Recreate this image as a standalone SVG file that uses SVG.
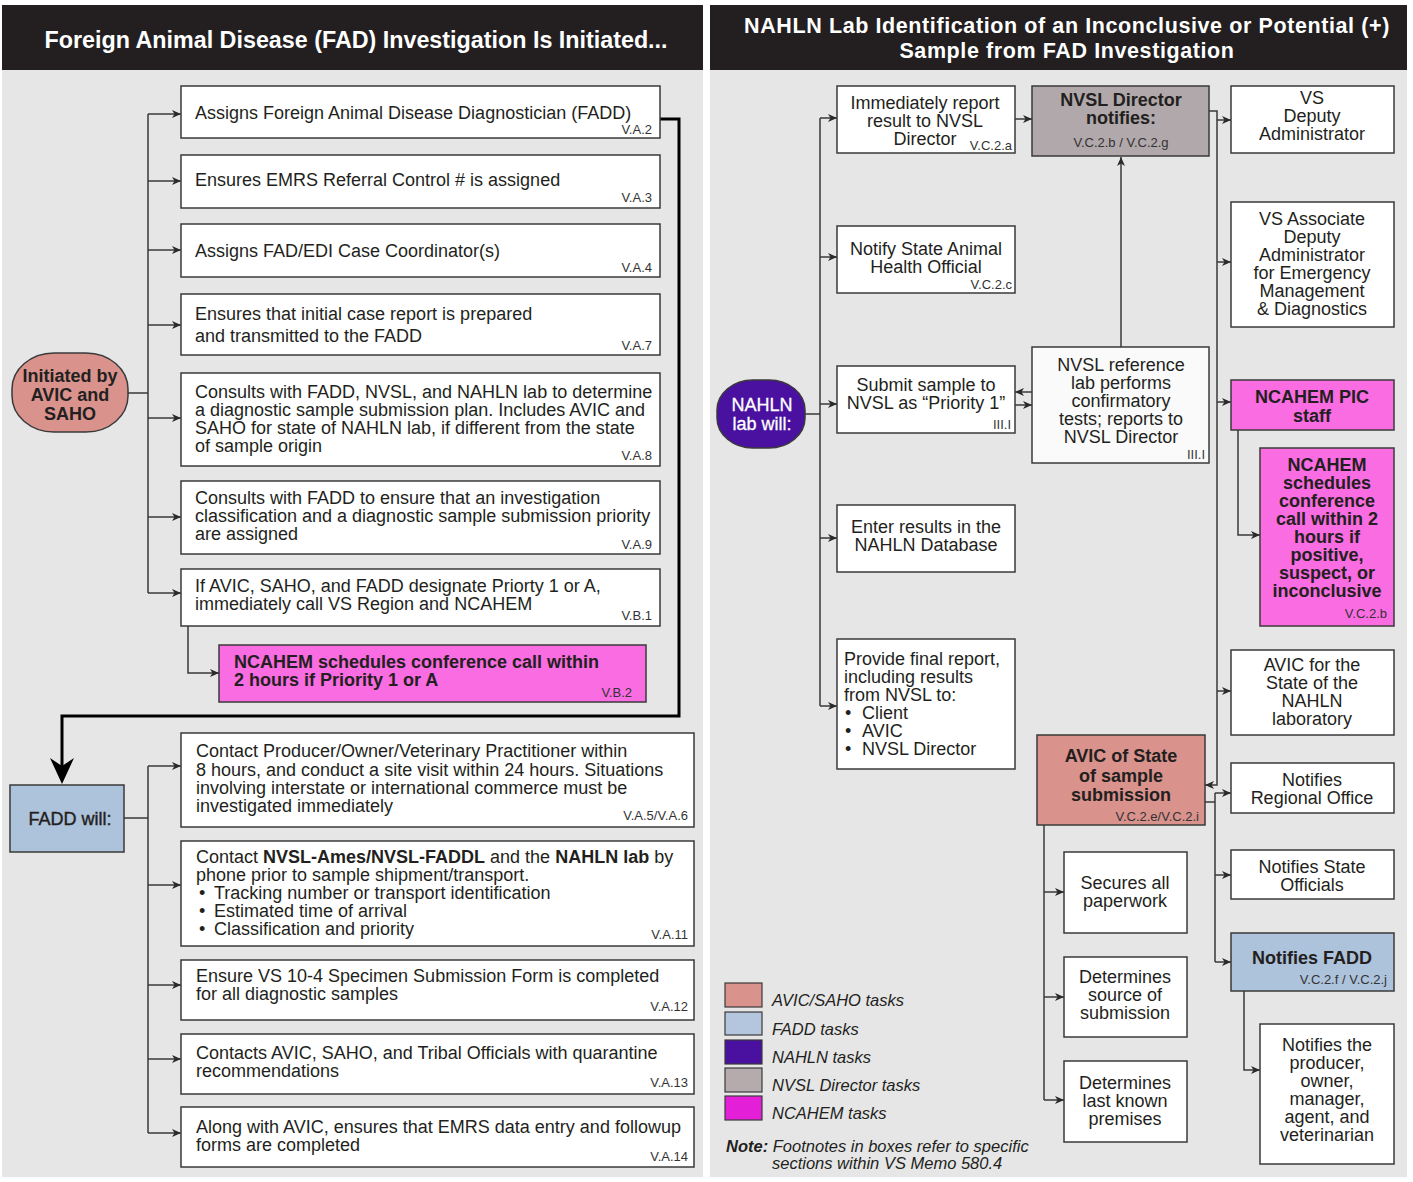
<svg xmlns="http://www.w3.org/2000/svg" width="1413" height="1182" viewBox="0 0 1413 1182">
<defs>
<style>
.hdr{fill:#231f20}
.bg{fill:#e6e6e6}
.box{fill:#fff;stroke:#3a3a3a;stroke-width:1.5}
.t{font-family:"Liberation Sans",Arial,Helvetica,sans-serif;font-size:18px;fill:#231f20}
.c{text-anchor:middle}
.b{font-weight:bold}
.fn{font-family:"Liberation Sans",Arial,Helvetica,sans-serif;font-size:13px;text-anchor:end;fill:#333}
.ht{font-family:"Liberation Sans",Arial,Helvetica,sans-serif;font-size:23px;font-weight:bold;fill:#fff;text-anchor:middle}
.conn{fill:none;stroke:#3a3a3a;stroke-width:1.5}
.pink{fill:#fa6ce2;stroke:#3a3a3a;stroke-width:1.5}
.salmon{fill:#d9928c;stroke:#3a3a3a;stroke-width:1.5}
.blue{fill:#adc2db;stroke:#3a3a3a;stroke-width:1.5}
.gray{fill:#b0a8aa;stroke:#3a3a3a;stroke-width:1.5}
.purple{fill:#4a11a0;stroke:#3a3a3a;stroke-width:1.5}
.leg{font-family:"Liberation Sans",Arial,Helvetica,sans-serif;font-size:16.5px;font-style:italic;fill:#231f20}
</style>
<marker id="ar" markerUnits="userSpaceOnUse" markerWidth="10" markerHeight="8" refX="9" refY="4" orient="auto">
<path d="M0,0 L9,4 L0,8 L2.5,4 z" fill="#2a2a2a"/>
</marker>
</defs>
<rect width="1413" height="1182" fill="#fff"/>
<!-- panels -->
<rect class="hdr" x="2" y="5" width="701" height="65"/>
<rect class="bg" x="2" y="70" width="701" height="1107"/>
<rect class="hdr" x="710" y="5" width="697" height="65"/>
<rect class="bg" x="710" y="70" width="697" height="1107"/>
<text class="ht" x="356" y="48" style="font-size:23.3px">Foreign Animal Disease (FAD) Investigation Is Initiated...</text>
<text class="ht" x="1067" y="33" style="font-size:21.5px;letter-spacing:0.6px">NAHLN Lab Identification of an Inconclusive or Potential (+)</text>
<text class="ht" x="1067" y="58" style="font-size:21.5px;letter-spacing:0.6px">Sample from FAD Investigation</text>

<!-- connectors -->
<g id="connectors">
<path class="conn" d="M128,393 H148 M148,114 V593"/>
<path class="conn" marker-end="url(#ar)" d="M148,114 H181"/>
<path class="conn" marker-end="url(#ar)" d="M148,181 H181"/>
<path class="conn" marker-end="url(#ar)" d="M148,250 H181"/>
<path class="conn" marker-end="url(#ar)" d="M148,325 H181"/>
<path class="conn" marker-end="url(#ar)" d="M148,418 H181"/>
<path class="conn" marker-end="url(#ar)" d="M148,517 H181"/>
<path class="conn" marker-end="url(#ar)" d="M148,593 H181"/>
<path class="conn" marker-end="url(#ar)" d="M188,626 V673 H219"/>
<path d="M660,119 H679 V716 H62 V768" fill="none" stroke="#000" stroke-width="3"/>
<polygon points="50,758 62,784 74,758 62,766" fill="#000"/>
<path class="conn" d="M124,818 H148 M148,766 V1133"/>
<path class="conn" marker-end="url(#ar)" d="M148,766 H181"/>
<path class="conn" marker-end="url(#ar)" d="M148,885 H181"/>
<path class="conn" marker-end="url(#ar)" d="M148,985 H181"/>
<path class="conn" marker-end="url(#ar)" d="M148,1059 H181"/>
<path class="conn" marker-end="url(#ar)" d="M148,1133 H181"/>

<path class="conn" d="M805,414 H820 M820,118 V706"/>
<path class="conn" marker-end="url(#ar)" d="M820,118 H837"/>
<path class="conn" marker-end="url(#ar)" d="M820,257 H837"/>
<path class="conn" marker-end="url(#ar)" d="M820,404 H837"/>
<path class="conn" marker-end="url(#ar)" d="M820,538 H837"/>
<path class="conn" marker-end="url(#ar)" d="M820,706 H837"/>
<path class="conn" marker-end="url(#ar)" d="M1015,119 H1032"/>
<path class="conn" marker-end="url(#ar)" d="M1121,347 V157"/>
<path class="conn" marker-end="url(#ar)" d="M1032,392 H1015"/>
<path class="conn" marker-end="url(#ar)" d="M1015,405 H1032"/>
<path class="conn" marker-end="url(#ar)" d="M1209,111 H1217 V785 H1205"/>
<path class="conn" marker-end="url(#ar)" d="M1217,120 H1231"/>
<path class="conn" marker-end="url(#ar)" d="M1217,262 H1231"/>
<path class="conn" marker-end="url(#ar)" d="M1217,402 H1231"/>
<path class="conn" marker-end="url(#ar)" d="M1217,691 H1231"/>
<path class="conn" d="M1205,802 H1215 M1215,793 V962"/>
<path class="conn" marker-end="url(#ar)" d="M1215,793 H1231"/>
<path class="conn" marker-end="url(#ar)" d="M1215,875 H1231"/>
<path class="conn" marker-end="url(#ar)" d="M1215,962 H1231"/>
<path class="conn" marker-end="url(#ar)" d="M1238,430 V535 H1260"/>
<path class="conn" marker-end="url(#ar)" d="M1244,991 V1070 H1260"/>
<path class="conn" d="M1044,825 V1100"/>
<path class="conn" marker-end="url(#ar)" d="M1044,892 H1064"/>
<path class="conn" marker-end="url(#ar)" d="M1044,997 H1064"/>
<path class="conn" marker-end="url(#ar)" d="M1044,1100 H1064"/>
</g>

<!-- left panel nodes -->
<g id="initiated">
<rect class="salmon" x="12" y="353" width="116" height="79" rx="42" ry="36"/>
<text class="t c b" x="70" y="382" font-size="18.5">Initiated by</text>
<text class="t c b" x="70" y="401" font-size="18.5">AVIC and</text>
<text class="t c b" x="70" y="420" font-size="18.5">SAHO</text>
</g>
<g id="la1"><rect class="box" x="181" y="86" width="479" height="52"/>
<text class="t" x="195" y="119" font-size="19">Assigns Foreign Animal Disease Diagnostician (FADD)</text>
<text class="fn" x="652" y="134">V.A.2</text></g>
<g id="la2"><rect class="box" x="181" y="155" width="479" height="53"/>
<text class="t" x="195" y="186" font-size="19">Ensures EMRS Referral Control # is assigned</text>
<text class="fn" x="652" y="202">V.A.3</text></g>
<g id="la3"><rect class="box" x="181" y="224" width="479" height="53"/>
<text class="t" x="195" y="257" font-size="19">Assigns FAD/EDI Case Coordinator(s)</text>
<text class="fn" x="652" y="272">V.A.4</text></g>
<g id="la4"><rect class="box" x="181" y="294" width="479" height="61"/>
<text class="t" x="195" y="320">Ensures that initial case report is prepared</text>
<text class="t" x="195" y="342">and transmitted to the FADD</text>
<text class="fn" x="652" y="350">V.A.7</text></g>
<g id="la5"><rect class="box" x="181" y="373" width="479" height="93"/>
<text class="t" x="195" y="398">Consults with FADD, NVSL, and NAHLN lab to determine</text>
<text class="t" x="195" y="416">a diagnostic sample submission plan. Includes AVIC and</text>
<text class="t" x="195" y="434">SAHO for state of NAHLN lab, if different from the state</text>
<text class="t" x="195" y="452">of sample origin</text>
<text class="fn" x="652" y="460">V.A.8</text></g>
<g id="la6"><rect class="box" x="181" y="481" width="479" height="73"/>
<text class="t" x="195" y="504">Consults with FADD to ensure that an investigation</text>
<text class="t" x="195" y="522">classification and a diagnostic sample submission priority</text>
<text class="t" x="195" y="540">are assigned</text>
<text class="fn" x="652" y="549">V.A.9</text></g>
<g id="la7"><rect class="box" x="181" y="569" width="479" height="57"/>
<text class="t" x="195" y="592">If AVIC, SAHO, and FADD designate Priorty 1 or A,</text>
<text class="t" x="195" y="610">immediately call VS Region and NCAHEM</text>
<text class="fn" x="652" y="620">V.B.1</text></g>
<g id="la8"><rect class="pink" x="219" y="645" width="427" height="57"/>
<text class="t b" x="234" y="668">NCAHEM schedules conference call within</text>
<text class="t b" x="234" y="686">2 hours if Priority 1 or A</text>
<text class="fn" x="632" y="697">V.B.2</text></g>

<g id="fadd"><rect class="blue" x="10" y="785" width="114" height="67"/>
<text class="t c" x="70" y="825" font-size="19" stroke="#231f20" stroke-width="0.4">FADD will:</text></g>
<g id="lb1"><rect class="box" x="181" y="733" width="513" height="94"/>
<text class="t" x="196" y="757">Contact Producer/Owner/Veterinary Practitioner within</text>
<text class="t" x="196" y="776">8 hours, and conduct a site visit within 24 hours. Situations</text>
<text class="t" x="196" y="794">involving interstate or international commerce must be</text>
<text class="t" x="196" y="812">investigated immediately</text>
<text class="fn" x="688" y="820">V.A.5/V.A.6</text></g>
<g id="lb2"><rect class="box" x="181" y="841" width="513" height="105"/>
<text class="t" x="196" y="863">Contact <tspan class="b">NVSL-Ames/NVSL-FADDL</tspan> and the <tspan class="b">NAHLN lab</tspan> by</text>
<text class="t" x="196" y="881">phone prior to sample shipment/transport.</text>
<text class="t" x="199" y="899">•</text><text class="t" x="214" y="899">Tracking number or transport identification</text>
<text class="t" x="199" y="917">•</text><text class="t" x="214" y="917">Estimated time of arrival</text>
<text class="t" x="199" y="935">•</text><text class="t" x="214" y="935">Classification and priority</text>
<text class="fn" x="688" y="939">V.A.11</text></g>
<g id="lb3"><rect class="box" x="181" y="960" width="513" height="60"/>
<text class="t" x="196" y="982">Ensure VS 10-4 Specimen Submission Form is completed</text>
<text class="t" x="196" y="1000">for all diagnostic samples</text>
<text class="fn" x="688" y="1011">V.A.12</text></g>
<g id="lb4"><rect class="box" x="181" y="1034" width="513" height="60"/>
<text class="t" x="196" y="1059">Contacts AVIC, SAHO, and Tribal Officials with quarantine</text>
<text class="t" x="196" y="1077">recommendations</text>
<text class="fn" x="688" y="1087">V.A.13</text></g>
<g id="lb5"><rect class="box" x="181" y="1107" width="513" height="60"/>
<text class="t" x="196" y="1133">Along with AVIC, ensures that EMRS data entry and followup</text>
<text class="t" x="196" y="1151">forms are completed</text>
<text class="fn" x="688" y="1161">V.A.14</text></g>

<!-- right panel nodes -->
<g id="nahln"><rect class="purple" x="717" y="380" width="88" height="68" rx="36" ry="30"/>
<text class="t c" x="762" y="411" font-size="19.5" style="fill:#fff" stroke="#fff" stroke-width="0.3">NAHLN</text>
<text class="t c" x="762" y="430" font-size="19.5" style="fill:#fff" stroke="#fff" stroke-width="0.3">lab will:</text></g>
<g id="ra1"><rect class="box" x="837" y="86" width="178" height="67"/>
<text class="t c" x="925" y="109">Immediately report</text>
<text class="t c" x="925" y="127">result to NVSL</text>
<text class="t c" x="925" y="145">Director</text>
<text class="fn" x="1012" y="150">V.C.2.a</text></g>
<g id="ra2"><rect class="box" x="837" y="226" width="178" height="67"/>
<text class="t c" x="926" y="255">Notify State Animal</text>
<text class="t c" x="926" y="273">Health Official</text>
<text class="fn" x="1012" y="289">V.C.2.c</text></g>
<g id="ra3"><rect class="box" x="837" y="366" width="178" height="67"/>
<text class="t c" x="926" y="391">Submit sample to</text>
<text class="t c" x="926" y="409">NVSL as “Priority 1”</text>
<text class="fn" x="1011" y="429">III.I</text></g>
<g id="ra4"><rect class="box" x="837" y="505" width="178" height="67"/>
<text class="t c" x="926" y="533">Enter results in the</text>
<text class="t c" x="926" y="551">NAHLN Database</text></g>
<g id="ra5"><rect class="box" x="837" y="639" width="178" height="130"/>
<text class="t" x="844" y="665">Provide final report,</text>
<text class="t" x="844" y="683">including results</text>
<text class="t" x="844" y="701">from NVSL to:</text>
<text class="t" x="845" y="719">•</text><text class="t" x="862" y="719">Client</text>
<text class="t" x="845" y="737">•</text><text class="t" x="862" y="737">AVIC</text>
<text class="t" x="845" y="755">•</text><text class="t" x="862" y="755">NVSL Director</text></g>
<g id="nvsldir"><rect class="gray" x="1032" y="86" width="177" height="70"/>
<text class="t c b" x="1121" y="106">NVSL Director</text>
<text class="t c b" x="1121" y="124">notifies:</text>
<text class="fn" x="1121" y="147" style="text-anchor:middle">V.C.2.b / V.C.2.g</text></g>
<g id="nvslref"><rect class="box" x="1032" y="347" width="177" height="116" style="fill:#fafafa"/>
<text class="t c" x="1121" y="371">NVSL reference</text>
<text class="t c" x="1121" y="389">lab performs</text>
<text class="t c" x="1121" y="407">confirmatory</text>
<text class="t c" x="1121" y="425">tests; reports to</text>
<text class="t c" x="1121" y="443">NVSL Director</text>
<text class="fn" x="1205" y="459">III.I</text></g>
<g id="rc1"><rect class="box" x="1231" y="86" width="163" height="67"/>
<text class="t c" x="1312" y="104">VS</text>
<text class="t c" x="1312" y="122">Deputy</text>
<text class="t c" x="1312" y="140">Administrator</text></g>
<g id="rc2"><rect class="box" x="1231" y="202" width="163" height="125"/>
<text class="t c" x="1312" y="225">VS Associate</text>
<text class="t c" x="1312" y="243">Deputy</text>
<text class="t c" x="1312" y="261">Administrator</text>
<text class="t c" x="1312" y="279">for Emergency</text>
<text class="t c" x="1312" y="297">Management</text>
<text class="t c" x="1312" y="315">&amp; Diagnostics</text></g>
<g id="rc3"><rect class="pink" x="1231" y="380" width="163" height="50"/>
<text class="t c b" x="1312" y="403">NCAHEM PIC</text>
<text class="t c b" x="1312" y="422">staff</text></g>
<g id="rc4"><rect class="pink" x="1260" y="448" width="134" height="178"/>
<text class="t c b" x="1327" y="471">NCAHEM</text>
<text class="t c b" x="1327" y="489">schedules</text>
<text class="t c b" x="1327" y="507">conference</text>
<text class="t c b" x="1327" y="525">call within 2</text>
<text class="t c b" x="1327" y="543">hours if</text>
<text class="t c b" x="1327" y="561">positive,</text>
<text class="t c b" x="1327" y="579">suspect, or</text>
<text class="t c b" x="1327" y="597">inconclusive</text>
<text class="fn" x="1387" y="618">V.C.2.b</text></g>
<g id="rc5"><rect class="box" x="1231" y="650" width="163" height="85"/>
<text class="t c" x="1312" y="671">AVIC for the</text>
<text class="t c" x="1312" y="689">State of the</text>
<text class="t c" x="1312" y="707">NAHLN</text>
<text class="t c" x="1312" y="725">laboratory</text></g>
<g id="rc6"><rect class="box" x="1231" y="763" width="163" height="50"/>
<text class="t c" x="1312" y="786">Notifies</text>
<text class="t c" x="1312" y="804">Regional Office</text></g>
<g id="rc7"><rect class="box" x="1231" y="850" width="163" height="49"/>
<text class="t c" x="1312" y="873">Notifies State</text>
<text class="t c" x="1312" y="891">Officials</text></g>
<g id="rc8"><rect class="blue" x="1231" y="933" width="163" height="58"/>
<text class="t c b" x="1312" y="964" font-size="18.5">Notifies FADD</text>
<text class="fn" x="1387" y="984">V.C.2.f / V.C.2.j</text></g>
<g id="rc9"><rect class="box" x="1260" y="1024" width="134" height="140"/>
<text class="t c" x="1327" y="1051">Notifies the</text>
<text class="t c" x="1327" y="1069">producer,</text>
<text class="t c" x="1327" y="1087">owner,</text>
<text class="t c" x="1327" y="1105">manager,</text>
<text class="t c" x="1327" y="1123">agent, and</text>
<text class="t c" x="1327" y="1141">veterinarian</text></g>
<g id="avicstate"><rect class="salmon" x="1037" y="735" width="168" height="90"/>
<text class="t c b" x="1121" y="762" font-size="18.5">AVIC of State</text>
<text class="t c b" x="1121" y="782" font-size="18.5">of sample</text>
<text class="t c b" x="1121" y="801" font-size="18.5">submission</text>
<text class="fn" x="1199" y="821">V.C.2.e/V.C.2.i</text></g>
<g id="rd1"><rect class="box" x="1064" y="852" width="123" height="81"/>
<text class="t c" x="1125" y="889">Secures all</text>
<text class="t c" x="1125" y="907">paperwork</text></g>
<g id="rd2"><rect class="box" x="1064" y="957" width="123" height="80"/>
<text class="t c" x="1125" y="983">Determines</text>
<text class="t c" x="1125" y="1001">source of</text>
<text class="t c" x="1125" y="1019">submission</text></g>
<g id="rd3"><rect class="box" x="1064" y="1061" width="123" height="81"/>
<text class="t c" x="1125" y="1089">Determines</text>
<text class="t c" x="1125" y="1107">last known</text>
<text class="t c" x="1125" y="1125">premises</text></g>

<!-- legend -->
<g id="legend">
<rect x="725" y="983" width="37" height="24" fill="#d9928c" stroke="#3a3a3a" stroke-width="1.2"/>
<rect x="725" y="1012" width="37" height="23" fill="#b3c6dd" stroke="#3a3a3a" stroke-width="1.2"/>
<rect x="725" y="1040" width="37" height="24" fill="#4a11a0" stroke="#3a3a3a" stroke-width="1.2"/>
<rect x="725" y="1068" width="37" height="24" fill="#b5abad" stroke="#3a3a3a" stroke-width="1.2"/>
<rect x="725" y="1096" width="37" height="24" fill="#e41fd8" stroke="#3a3a3a" stroke-width="1.2"/>
<text class="leg" x="772" y="1006">AVIC/SAHO tasks</text>
<text class="leg" x="772" y="1035">FADD tasks</text>
<text class="leg" x="772" y="1063">NAHLN tasks</text>
<text class="leg" x="772" y="1091">NVSL Director tasks</text>
<text class="leg" x="772" y="1119">NCAHEM tasks</text>
<text class="leg" x="726" y="1152"><tspan font-weight="bold">Note:</tspan> Footnotes in boxes refer to specific</text>
<text class="leg" x="772" y="1169">sections within VS Memo 580.4</text>
</g>
</svg>
